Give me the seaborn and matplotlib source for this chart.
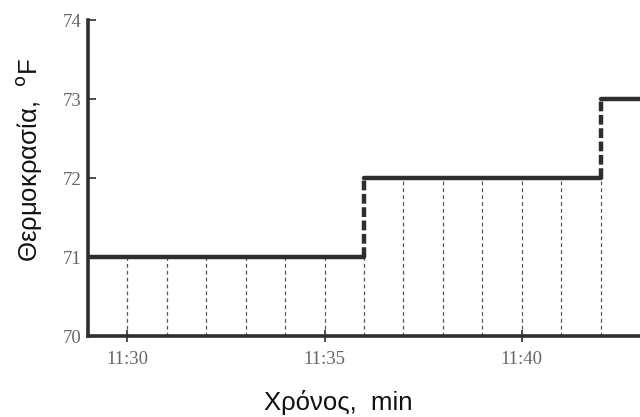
import pandas as pd
import numpy as np
import seaborn as sns
import matplotlib.pyplot as plt

# temperature held between changes (minutes after 11:00)
level_start = [29, 36, 42]
level_end = [36, 42, 43]
level_temp = [71, 72, 73]

# sampling instants and the reading shown at each one
reading_min = [30, 31, 32, 33, 34, 35, 36, 37, 38, 39, 40, 41, 42]
reading_temp = [71, 71, 71, 71, 71, 71, 71, 72, 72, 72, 72, 72, 72]

xtick_pos = [30, 35, 40]
xtick_labels = ['11:30', '11:35', '11:40']
ytick_pos = [70, 71, 72, 73, 74]

sns.set_style('white')
plt.rcParams['font.family'] = ['Liberation Sans', 'DejaVu Sans']

# segments of the step line as a long table
seg = pd.DataFrame({
    'minute': level_start + level_end,
    'temp': level_temp + level_temp,
    'piece': list(range(len(level_temp))) * 2,
})

fig = plt.figure(figsize=(6.4, 4.17), dpi=100)
ax = fig.add_axes([0.1375, 0.194, 0.8625, 0.758])

line_col = '#2e2e2e'

# thin dashed lines at every minute
ax.vlines(reading_min, 70, reading_temp, colors='#555555', linewidth=0.9,
          linestyles=(0, (3, 2.5)), zorder=1)

# thick dashed risers where the temperature changes
ax.vlines(level_start[1:], level_temp[:-1], level_temp[1:], colors=line_col,
          linewidth=3.2, linestyles=(0, (2.2, 0.8)), zorder=3)

sns.lineplot(data=seg, x='minute', y='temp', units='piece', estimator=None,
             color=line_col, linewidth=3.2, ax=ax, zorder=4)

ax.set_xlim(29, 43)
ax.set_ylim(70, 74)

ax.set_xticks(xtick_pos)
ax.set_xticklabels(xtick_labels)
ax.set_yticks(ytick_pos)
for lab in ax.get_xticklabels() + ax.get_yticklabels():
    lab.set_family('Liberation Serif')
    lab.set_fontsize(13.5)
    lab.set_color('#666666')

ax.tick_params(axis='x', direction='inout', length=9, width=1.2, color=line_col, pad=6)
ax.tick_params(axis='y', direction='in', length=6, width=1.2, color=line_col, pad=5)
ax.yaxis.set_ticks_position('left')
ax.xaxis.set_ticks_position('bottom')

sns.despine(ax=ax)
for side in ['left', 'bottom']:
    ax.spines[side].set_linewidth(2.6)
    ax.spines[side].set_color(line_col)
    ax.spines[side].set_zorder(5)

ax.set_xlabel('Χρόνος,  min', fontsize=18.5, color='#111111')
ax.set_ylabel('Θερμοκρασία,  $^{\\rm o}$F', fontsize=18.5, color='#111111')
ax.xaxis.set_label_coords(0.453, -0.172)
ax.yaxis.set_label_coords(-0.08, 0.557)

fig.savefig('out.png', dpi=100, facecolor='white')
